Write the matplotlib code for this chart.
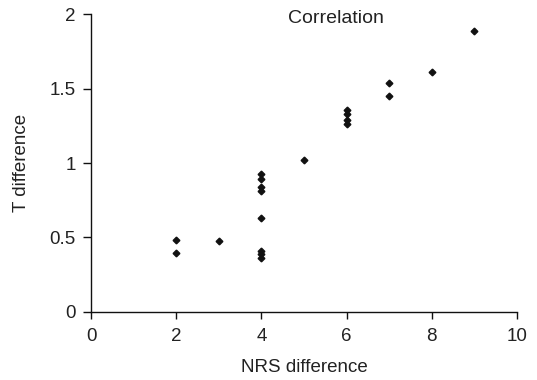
import matplotlib
matplotlib.use("Agg")
import matplotlib.pyplot as plt

nrs_diff = [2, 2, 3, 4, 4, 4, 4, 4, 4, 4, 4, 5, 6, 6, 6, 6, 7, 7, 8, 9]
t_diff = [0.485, 0.395, 0.475, 0.925, 0.89, 0.84, 0.81, 0.63, 0.41, 0.385, 0.36,
          1.02, 1.355, 1.33, 1.29, 1.26, 1.54, 1.45, 1.61, 1.89]

plt.rcParams["font.family"] = ["Liberation Sans", "DejaVu Sans"]
text_color = "#222222"

fig = plt.figure(figsize=(5.37, 3.8), dpi=100)
ax = fig.add_axes([0.1695, 0.180, 0.7933, 0.782])

ax.plot(nrs_diff, t_diff, linestyle="none", marker="D", markersize=3.4,
        color="#111111")

ax.set_xlim(0, 10)
ax.set_ylim(0, 2)
ax.set_xticks([0, 2, 4, 6, 8, 10])
ax.set_yticks([0, 0.5, 1, 1.5, 2])
ax.set_yticklabels(["0", "0.5", "1", "1.5", "2"])

for side in ("top", "right"):
    ax.spines[side].set_visible(False)
for side in ("left", "bottom"):
    ax.spines[side].set_linewidth(1.0)
    ax.spines[side].set_color("#111111")
ax.tick_params(axis="y", direction="out", length=6, width=1, labelsize=13.5,
               pad=5, colors="#111111", labelcolor=text_color)
ax.tick_params(axis="x", direction="out", length=5, width=1, labelsize=13.5,
               pad=7, colors="#111111", labelcolor=text_color)

ax.set_xlabel("NRS difference", fontsize=13.5, labelpad=10, color=text_color)
ax.set_ylabel("T difference", fontsize=13.5, labelpad=14, color=text_color)
ax.text(0.575, 0.985, "Correlation", transform=ax.transAxes, ha="center",
        va="center", fontsize=14, color=text_color)

fig.savefig("out.png", dpi=100)
